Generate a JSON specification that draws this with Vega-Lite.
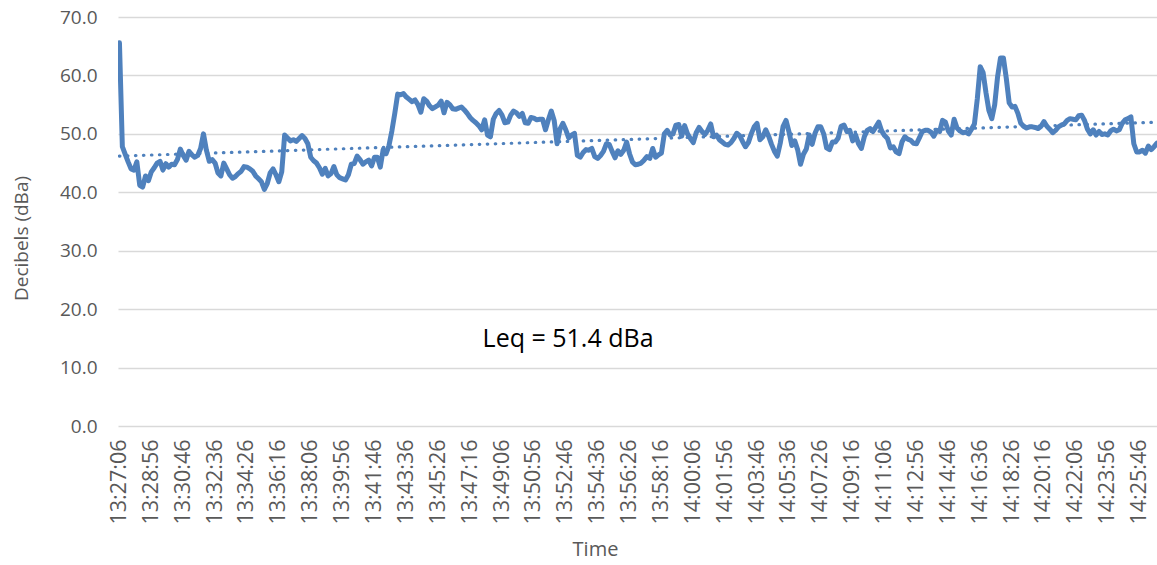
{
"$schema": "https://vega.github.io/schema/vega-lite/v6.json",
"width": 1039,
"height": 409,
"autosize": "none",
"padding": {"left": 118, "top": 17, "right": 0, "bottom": 139},
"background": "white",
"config": {"view": {"stroke": null}, "font": "Open Sans", "axis": {"labelOverlap": false}, "axisX": {"labelOverlap": false}},
"datasets": {"noise": [
{"t":"2012-01-01T13:27:06","db":65.6},{"t":"2012-01-01T13:27:16","db":47.8},{"t":"2012-01-01T13:27:26","db":46.5},{"t":"2012-01-01T13:27:36","db":45.2},{"t":"2012-01-01T13:27:46","db":44.0},{"t":"2012-01-01T13:27:56","db":43.8},
{"t":"2012-01-01T13:28:06","db":45.2},{"t":"2012-01-01T13:28:16","db":41.2},{"t":"2012-01-01T13:28:26","db":40.9},{"t":"2012-01-01T13:28:36","db":42.8},{"t":"2012-01-01T13:28:46","db":42.0},{"t":"2012-01-01T13:28:56","db":43.5},
{"t":"2012-01-01T13:29:06","db":44.2},{"t":"2012-01-01T13:29:16","db":45.0},{"t":"2012-01-01T13:29:26","db":45.3},{"t":"2012-01-01T13:29:36","db":43.8},{"t":"2012-01-01T13:29:46","db":44.9},{"t":"2012-01-01T13:29:56","db":44.3},
{"t":"2012-01-01T13:30:06","db":44.8},{"t":"2012-01-01T13:30:16","db":44.7},{"t":"2012-01-01T13:30:26","db":45.6},{"t":"2012-01-01T13:30:36","db":47.4},{"t":"2012-01-01T13:30:46","db":46.3},{"t":"2012-01-01T13:30:56","db":45.5},
{"t":"2012-01-01T13:31:06","db":47.0},{"t":"2012-01-01T13:31:16","db":46.4},{"t":"2012-01-01T13:31:26","db":46.0},{"t":"2012-01-01T13:31:36","db":46.3},{"t":"2012-01-01T13:31:46","db":47.5},{"t":"2012-01-01T13:31:56","db":50.0},
{"t":"2012-01-01T13:32:06","db":47.2},{"t":"2012-01-01T13:32:16","db":45.3},{"t":"2012-01-01T13:32:26","db":45.6},{"t":"2012-01-01T13:32:36","db":45.0},{"t":"2012-01-01T13:32:46","db":43.3},{"t":"2012-01-01T13:32:56","db":42.8},
{"t":"2012-01-01T13:33:06","db":45.0},{"t":"2012-01-01T13:33:16","db":44.0},{"t":"2012-01-01T13:33:26","db":43.0},{"t":"2012-01-01T13:33:36","db":42.4},{"t":"2012-01-01T13:33:46","db":42.7},{"t":"2012-01-01T13:33:56","db":43.2},
{"t":"2012-01-01T13:34:06","db":43.6},{"t":"2012-01-01T13:34:16","db":44.4},{"t":"2012-01-01T13:34:26","db":44.3},{"t":"2012-01-01T13:34:36","db":44.0},{"t":"2012-01-01T13:34:46","db":43.6},{"t":"2012-01-01T13:34:56","db":42.8},
{"t":"2012-01-01T13:35:06","db":42.3},{"t":"2012-01-01T13:35:16","db":41.8},{"t":"2012-01-01T13:35:26","db":40.5},{"t":"2012-01-01T13:35:36","db":41.5},{"t":"2012-01-01T13:35:46","db":43.3},{"t":"2012-01-01T13:35:56","db":44.0},
{"t":"2012-01-01T13:36:06","db":43.0},{"t":"2012-01-01T13:36:16","db":41.8},{"t":"2012-01-01T13:36:26","db":43.5},{"t":"2012-01-01T13:36:36","db":49.8},{"t":"2012-01-01T13:36:46","db":49.3},{"t":"2012-01-01T13:36:56","db":48.8},
{"t":"2012-01-01T13:37:06","db":49.0},{"t":"2012-01-01T13:37:16","db":48.7},{"t":"2012-01-01T13:37:26","db":49.2},{"t":"2012-01-01T13:37:36","db":49.7},{"t":"2012-01-01T13:37:46","db":49.2},{"t":"2012-01-01T13:37:56","db":48.3},
{"t":"2012-01-01T13:38:06","db":46.0},{"t":"2012-01-01T13:38:16","db":45.4},{"t":"2012-01-01T13:38:26","db":45.0},{"t":"2012-01-01T13:38:36","db":44.2},{"t":"2012-01-01T13:38:46","db":43.1},{"t":"2012-01-01T13:38:56","db":44.1},
{"t":"2012-01-01T13:39:06","db":42.8},{"t":"2012-01-01T13:39:16","db":43.2},{"t":"2012-01-01T13:39:26","db":44.4},{"t":"2012-01-01T13:39:36","db":43.0},{"t":"2012-01-01T13:39:46","db":42.5},{"t":"2012-01-01T13:39:56","db":42.3},
{"t":"2012-01-01T13:40:06","db":42.1},{"t":"2012-01-01T13:40:16","db":43.0},{"t":"2012-01-01T13:40:26","db":44.8},{"t":"2012-01-01T13:40:36","db":44.9},{"t":"2012-01-01T13:40:46","db":46.2},{"t":"2012-01-01T13:40:56","db":45.6},
{"t":"2012-01-01T13:41:06","db":44.8},{"t":"2012-01-01T13:41:16","db":45.2},{"t":"2012-01-01T13:41:26","db":45.5},{"t":"2012-01-01T13:41:36","db":44.5},{"t":"2012-01-01T13:41:46","db":46.0},{"t":"2012-01-01T13:41:56","db":46.0},
{"t":"2012-01-01T13:42:06","db":44.3},{"t":"2012-01-01T13:42:16","db":47.3},{"t":"2012-01-01T13:42:26","db":46.6},{"t":"2012-01-01T13:42:36","db":48.0},{"t":"2012-01-01T13:42:46","db":50.5},{"t":"2012-01-01T13:42:56","db":53.5},
{"t":"2012-01-01T13:43:06","db":56.8},{"t":"2012-01-01T13:43:16","db":56.7},{"t":"2012-01-01T13:43:26","db":56.9},{"t":"2012-01-01T13:43:36","db":56.3},{"t":"2012-01-01T13:43:46","db":55.9},{"t":"2012-01-01T13:43:56","db":55.5},
{"t":"2012-01-01T13:44:06","db":55.8},{"t":"2012-01-01T13:44:16","db":55.0},{"t":"2012-01-01T13:44:26","db":53.7},{"t":"2012-01-01T13:44:36","db":56.0},{"t":"2012-01-01T13:44:46","db":55.6},{"t":"2012-01-01T13:44:56","db":54.8},
{"t":"2012-01-01T13:45:06","db":54.3},{"t":"2012-01-01T13:45:16","db":54.6},{"t":"2012-01-01T13:45:26","db":54.9},{"t":"2012-01-01T13:45:36","db":55.6},{"t":"2012-01-01T13:45:46","db":53.6},{"t":"2012-01-01T13:45:56","db":55.4},
{"t":"2012-01-01T13:46:06","db":55.0},{"t":"2012-01-01T13:46:16","db":54.3},{"t":"2012-01-01T13:46:26","db":54.2},{"t":"2012-01-01T13:46:36","db":54.4},{"t":"2012-01-01T13:46:46","db":54.6},{"t":"2012-01-01T13:46:56","db":54.1},
{"t":"2012-01-01T13:47:06","db":53.5},{"t":"2012-01-01T13:47:16","db":52.8},{"t":"2012-01-01T13:47:26","db":52.3},{"t":"2012-01-01T13:47:36","db":51.9},{"t":"2012-01-01T13:47:46","db":51.4},{"t":"2012-01-01T13:47:56","db":50.7},
{"t":"2012-01-01T13:48:06","db":52.4},{"t":"2012-01-01T13:48:16","db":49.8},{"t":"2012-01-01T13:48:26","db":49.5},{"t":"2012-01-01T13:48:36","db":52.5},{"t":"2012-01-01T13:48:46","db":53.5},{"t":"2012-01-01T13:48:56","db":54.0},
{"t":"2012-01-01T13:49:06","db":53.2},{"t":"2012-01-01T13:49:16","db":51.9},{"t":"2012-01-01T13:49:26","db":52.0},{"t":"2012-01-01T13:49:36","db":53.2},{"t":"2012-01-01T13:49:46","db":53.9},{"t":"2012-01-01T13:49:56","db":53.6},
{"t":"2012-01-01T13:50:06","db":53.0},{"t":"2012-01-01T13:50:16","db":53.5},{"t":"2012-01-01T13:50:26","db":51.9},{"t":"2012-01-01T13:50:36","db":51.8},{"t":"2012-01-01T13:50:46","db":52.8},{"t":"2012-01-01T13:50:56","db":52.7},
{"t":"2012-01-01T13:51:06","db":52.4},{"t":"2012-01-01T13:51:16","db":52.5},{"t":"2012-01-01T13:51:26","db":52.5},{"t":"2012-01-01T13:51:36","db":50.7},{"t":"2012-01-01T13:51:46","db":52.4},{"t":"2012-01-01T13:51:56","db":53.9},
{"t":"2012-01-01T13:52:06","db":52.3},{"t":"2012-01-01T13:52:16","db":48.3},{"t":"2012-01-01T13:52:26","db":50.8},{"t":"2012-01-01T13:52:36","db":51.8},{"t":"2012-01-01T13:52:46","db":50.7},{"t":"2012-01-01T13:52:56","db":49.3},
{"t":"2012-01-01T13:53:06","db":49.8},{"t":"2012-01-01T13:53:16","db":50.1},{"t":"2012-01-01T13:53:26","db":46.3},{"t":"2012-01-01T13:53:36","db":46.0},{"t":"2012-01-01T13:53:46","db":46.8},{"t":"2012-01-01T13:53:56","db":47.3},
{"t":"2012-01-01T13:54:06","db":47.2},{"t":"2012-01-01T13:54:16","db":47.5},{"t":"2012-01-01T13:54:26","db":46.1},{"t":"2012-01-01T13:54:36","db":45.8},{"t":"2012-01-01T13:54:46","db":46.3},{"t":"2012-01-01T13:54:56","db":47.0},
{"t":"2012-01-01T13:55:06","db":48.3},{"t":"2012-01-01T13:55:16","db":48.2},{"t":"2012-01-01T13:55:26","db":47.0},{"t":"2012-01-01T13:55:36","db":45.9},{"t":"2012-01-01T13:55:46","db":47.1},{"t":"2012-01-01T13:55:56","db":46.5},
{"t":"2012-01-01T13:56:06","db":47.2},{"t":"2012-01-01T13:56:16","db":48.6},{"t":"2012-01-01T13:56:26","db":46.6},{"t":"2012-01-01T13:56:36","db":45.2},{"t":"2012-01-01T13:56:46","db":44.7},{"t":"2012-01-01T13:56:56","db":44.8},
{"t":"2012-01-01T13:57:06","db":45.0},{"t":"2012-01-01T13:57:16","db":45.5},{"t":"2012-01-01T13:57:26","db":46.1},{"t":"2012-01-01T13:57:36","db":45.8},{"t":"2012-01-01T13:57:46","db":47.5},{"t":"2012-01-01T13:57:56","db":46.0},
{"t":"2012-01-01T13:58:06","db":46.4},{"t":"2012-01-01T13:58:16","db":46.7},{"t":"2012-01-01T13:58:26","db":50.0},{"t":"2012-01-01T13:58:36","db":50.6},{"t":"2012-01-01T13:58:46","db":49.8},{"t":"2012-01-01T13:58:56","db":50.0},
{"t":"2012-01-01T13:59:06","db":51.5},{"t":"2012-01-01T13:59:16","db":51.6},{"t":"2012-01-01T13:59:26","db":49.6},{"t":"2012-01-01T13:59:36","db":51.4},{"t":"2012-01-01T13:59:46","db":50.0},{"t":"2012-01-01T13:59:56","db":49.2},
{"t":"2012-01-01T14:00:06","db":48.5},{"t":"2012-01-01T14:00:16","db":50.2},{"t":"2012-01-01T14:00:26","db":51.1},{"t":"2012-01-01T14:00:36","db":50.4},{"t":"2012-01-01T14:00:46","db":49.9},{"t":"2012-01-01T14:00:56","db":50.6},
{"t":"2012-01-01T14:01:06","db":51.7},{"t":"2012-01-01T14:01:16","db":49.5},{"t":"2012-01-01T14:01:26","db":49.8},{"t":"2012-01-01T14:01:36","db":49.0},{"t":"2012-01-01T14:01:46","db":48.6},{"t":"2012-01-01T14:01:56","db":48.2},
{"t":"2012-01-01T14:02:06","db":48.1},{"t":"2012-01-01T14:02:16","db":48.5},{"t":"2012-01-01T14:02:26","db":49.2},{"t":"2012-01-01T14:02:36","db":50.1},{"t":"2012-01-01T14:02:46","db":49.7},{"t":"2012-01-01T14:02:56","db":48.7},
{"t":"2012-01-01T14:03:06","db":47.8},{"t":"2012-01-01T14:03:16","db":48.5},{"t":"2012-01-01T14:03:26","db":50.0},{"t":"2012-01-01T14:03:36","db":51.2},{"t":"2012-01-01T14:03:46","db":51.8},{"t":"2012-01-01T14:03:56","db":49.0},
{"t":"2012-01-01T14:04:06","db":49.5},{"t":"2012-01-01T14:04:16","db":50.7},{"t":"2012-01-01T14:04:26","db":49.6},{"t":"2012-01-01T14:04:36","db":48.2},{"t":"2012-01-01T14:04:46","db":47.0},{"t":"2012-01-01T14:04:56","db":46.2},
{"t":"2012-01-01T14:05:06","db":48.4},{"t":"2012-01-01T14:05:16","db":51.3},{"t":"2012-01-01T14:05:26","db":52.3},{"t":"2012-01-01T14:05:36","db":50.4},{"t":"2012-01-01T14:05:46","db":48.0},{"t":"2012-01-01T14:05:56","db":48.8},
{"t":"2012-01-01T14:06:06","db":47.3},{"t":"2012-01-01T14:06:16","db":44.8},{"t":"2012-01-01T14:06:26","db":46.5},{"t":"2012-01-01T14:06:36","db":47.4},{"t":"2012-01-01T14:06:46","db":49.8},{"t":"2012-01-01T14:06:56","db":48.2},
{"t":"2012-01-01T14:07:06","db":50.1},{"t":"2012-01-01T14:07:16","db":51.2},{"t":"2012-01-01T14:07:26","db":51.2},{"t":"2012-01-01T14:07:36","db":50.0},{"t":"2012-01-01T14:07:46","db":47.6},{"t":"2012-01-01T14:07:56","db":47.3},
{"t":"2012-01-01T14:08:06","db":48.6},{"t":"2012-01-01T14:08:16","db":48.6},{"t":"2012-01-01T14:08:26","db":49.3},{"t":"2012-01-01T14:08:36","db":51.3},{"t":"2012-01-01T14:08:46","db":51.5},{"t":"2012-01-01T14:08:56","db":50.4},
{"t":"2012-01-01T14:09:06","db":50.6},{"t":"2012-01-01T14:09:16","db":48.8},{"t":"2012-01-01T14:09:26","db":49.8},{"t":"2012-01-01T14:09:36","db":48.3},{"t":"2012-01-01T14:09:46","db":47.5},{"t":"2012-01-01T14:09:56","db":49.5},
{"t":"2012-01-01T14:10:06","db":50.6},{"t":"2012-01-01T14:10:16","db":50.9},{"t":"2012-01-01T14:10:26","db":50.4},{"t":"2012-01-01T14:10:36","db":51.2},{"t":"2012-01-01T14:10:46","db":52.0},{"t":"2012-01-01T14:10:56","db":50.5},
{"t":"2012-01-01T14:11:06","db":49.7},{"t":"2012-01-01T14:11:16","db":49.2},{"t":"2012-01-01T14:11:26","db":47.6},{"t":"2012-01-01T14:11:36","db":47.8},{"t":"2012-01-01T14:11:46","db":46.9},{"t":"2012-01-01T14:11:56","db":46.6},
{"t":"2012-01-01T14:12:06","db":48.6},{"t":"2012-01-01T14:12:16","db":49.5},{"t":"2012-01-01T14:12:26","db":49.1},{"t":"2012-01-01T14:12:36","db":48.9},{"t":"2012-01-01T14:12:46","db":48.4},{"t":"2012-01-01T14:12:56","db":48.3},
{"t":"2012-01-01T14:13:06","db":49.3},{"t":"2012-01-01T14:13:16","db":50.4},{"t":"2012-01-01T14:13:26","db":50.6},{"t":"2012-01-01T14:13:36","db":50.6},{"t":"2012-01-01T14:13:46","db":50.3},{"t":"2012-01-01T14:13:56","db":49.6},
{"t":"2012-01-01T14:14:06","db":50.6},{"t":"2012-01-01T14:14:16","db":50.4},{"t":"2012-01-01T14:14:26","db":52.3},{"t":"2012-01-01T14:14:36","db":52.0},{"t":"2012-01-01T14:14:46","db":50.5},{"t":"2012-01-01T14:14:56","db":49.8},
{"t":"2012-01-01T14:15:06","db":52.5},{"t":"2012-01-01T14:15:16","db":51.0},{"t":"2012-01-01T14:15:26","db":50.5},{"t":"2012-01-01T14:15:36","db":50.2},{"t":"2012-01-01T14:15:46","db":50.3},{"t":"2012-01-01T14:15:56","db":50.0},
{"t":"2012-01-01T14:16:06","db":50.8},{"t":"2012-01-01T14:16:16","db":51.7},{"t":"2012-01-01T14:16:26","db":56.0},{"t":"2012-01-01T14:16:36","db":61.5},{"t":"2012-01-01T14:16:46","db":60.5},{"t":"2012-01-01T14:16:56","db":57.0},
{"t":"2012-01-01T14:17:06","db":54.0},{"t":"2012-01-01T14:17:16","db":52.6},{"t":"2012-01-01T14:17:26","db":55.0},{"t":"2012-01-01T14:17:36","db":59.8},{"t":"2012-01-01T14:17:46","db":63.0},{"t":"2012-01-01T14:17:56","db":63.0},
{"t":"2012-01-01T14:18:06","db":59.5},{"t":"2012-01-01T14:18:16","db":55.3},{"t":"2012-01-01T14:18:26","db":54.6},{"t":"2012-01-01T14:18:36","db":54.7},{"t":"2012-01-01T14:18:46","db":53.5},{"t":"2012-01-01T14:18:56","db":51.8},
{"t":"2012-01-01T14:19:06","db":51.3},{"t":"2012-01-01T14:19:16","db":51.0},{"t":"2012-01-01T14:19:26","db":51.2},{"t":"2012-01-01T14:19:36","db":51.2},{"t":"2012-01-01T14:19:46","db":51.1},{"t":"2012-01-01T14:19:56","db":50.9},
{"t":"2012-01-01T14:20:06","db":51.3},{"t":"2012-01-01T14:20:16","db":52.1},{"t":"2012-01-01T14:20:26","db":51.3},{"t":"2012-01-01T14:20:36","db":50.8},{"t":"2012-01-01T14:20:46","db":50.2},{"t":"2012-01-01T14:20:56","db":50.6},
{"t":"2012-01-01T14:21:06","db":51.2},{"t":"2012-01-01T14:21:16","db":51.5},{"t":"2012-01-01T14:21:26","db":51.7},{"t":"2012-01-01T14:21:36","db":52.3},{"t":"2012-01-01T14:21:46","db":52.6},{"t":"2012-01-01T14:21:56","db":52.5},
{"t":"2012-01-01T14:22:06","db":52.4},{"t":"2012-01-01T14:22:16","db":53.1},{"t":"2012-01-01T14:22:26","db":53.2},{"t":"2012-01-01T14:22:36","db":52.3},{"t":"2012-01-01T14:22:46","db":50.8},{"t":"2012-01-01T14:22:56","db":50.0},
{"t":"2012-01-01T14:23:06","db":50.7},{"t":"2012-01-01T14:23:16","db":49.8},{"t":"2012-01-01T14:23:26","db":50.4},{"t":"2012-01-01T14:23:36","db":49.9},{"t":"2012-01-01T14:23:46","db":50.0},{"t":"2012-01-01T14:23:56","db":49.8},
{"t":"2012-01-01T14:24:06","db":50.5},{"t":"2012-01-01T14:24:16","db":50.8},{"t":"2012-01-01T14:24:26","db":50.5},{"t":"2012-01-01T14:24:36","db":50.7},{"t":"2012-01-01T14:24:46","db":51.8},{"t":"2012-01-01T14:24:56","db":52.4},
{"t":"2012-01-01T14:25:06","db":52.6},{"t":"2012-01-01T14:25:16","db":52.9},{"t":"2012-01-01T14:25:26","db":48.3},{"t":"2012-01-01T14:25:36","db":46.9},{"t":"2012-01-01T14:25:46","db":46.9},{"t":"2012-01-01T14:25:56","db":47.2},
{"t":"2012-01-01T14:26:06","db":46.7},{"t":"2012-01-01T14:26:16","db":47.9},{"t":"2012-01-01T14:26:26","db":47.3},{"t":"2012-01-01T14:26:36","db":47.8},{"t":"2012-01-01T14:26:46","db":48.4}
],
"trend": [{"t":"2012-01-01T13:27:06","db":46.2},{"t":"2012-01-01T14:26:46","db":52.0}],
"note": [{"t":"2012-01-01T13:52:54","db":14.9,"label":"Leq = 51.4 dBa"}]
},
"layer": [
{
"data": {"name": "noise"},
"mark": {"type": "line", "color": "#4F81BD", "strokeWidth": 5, "strokeJoin": "round", "strokeCap": "round", "clip": true},
"encoding": {
"x": {"field": "t", "type": "temporal",
"scale": {"domain": [{"year":2012,"month":1,"date":1,"hours":13,"minutes":27,"seconds":1},{"year":2012,"month":1,"date":1,"hours":14,"minutes":26,"seconds":46}]},
"axis": {"title": "Time", "format": "%H:%M:%S", "labelAngle": -90, "labelFlush": false, "labelOverlap": false, "labelBound": false, "tickCount": 60,
"values": [
{"year":2012,"month":1,"date":1,"hours":13,"minutes":27,"seconds":6},{"year":2012,"month":1,"date":1,"hours":13,"minutes":28,"seconds":56},{"year":2012,"month":1,"date":1,"hours":13,"minutes":30,"seconds":46},
{"year":2012,"month":1,"date":1,"hours":13,"minutes":32,"seconds":36},{"year":2012,"month":1,"date":1,"hours":13,"minutes":34,"seconds":26},{"year":2012,"month":1,"date":1,"hours":13,"minutes":36,"seconds":16},
{"year":2012,"month":1,"date":1,"hours":13,"minutes":38,"seconds":6},{"year":2012,"month":1,"date":1,"hours":13,"minutes":39,"seconds":56},{"year":2012,"month":1,"date":1,"hours":13,"minutes":41,"seconds":46},
{"year":2012,"month":1,"date":1,"hours":13,"minutes":43,"seconds":36},{"year":2012,"month":1,"date":1,"hours":13,"minutes":45,"seconds":26},{"year":2012,"month":1,"date":1,"hours":13,"minutes":47,"seconds":16},
{"year":2012,"month":1,"date":1,"hours":13,"minutes":49,"seconds":6},{"year":2012,"month":1,"date":1,"hours":13,"minutes":50,"seconds":56},{"year":2012,"month":1,"date":1,"hours":13,"minutes":52,"seconds":46},
{"year":2012,"month":1,"date":1,"hours":13,"minutes":54,"seconds":36},{"year":2012,"month":1,"date":1,"hours":13,"minutes":56,"seconds":26},{"year":2012,"month":1,"date":1,"hours":13,"minutes":58,"seconds":16},
{"year":2012,"month":1,"date":1,"hours":14,"minutes":0,"seconds":6},{"year":2012,"month":1,"date":1,"hours":14,"minutes":1,"seconds":56},{"year":2012,"month":1,"date":1,"hours":14,"minutes":3,"seconds":46},
{"year":2012,"month":1,"date":1,"hours":14,"minutes":5,"seconds":36},{"year":2012,"month":1,"date":1,"hours":14,"minutes":7,"seconds":26},{"year":2012,"month":1,"date":1,"hours":14,"minutes":9,"seconds":16},
{"year":2012,"month":1,"date":1,"hours":14,"minutes":11,"seconds":6},{"year":2012,"month":1,"date":1,"hours":14,"minutes":12,"seconds":56},{"year":2012,"month":1,"date":1,"hours":14,"minutes":14,"seconds":46},
{"year":2012,"month":1,"date":1,"hours":14,"minutes":16,"seconds":36},{"year":2012,"month":1,"date":1,"hours":14,"minutes":18,"seconds":26},{"year":2012,"month":1,"date":1,"hours":14,"minutes":20,"seconds":16},
{"year":2012,"month":1,"date":1,"hours":14,"minutes":22,"seconds":6},{"year":2012,"month":1,"date":1,"hours":14,"minutes":23,"seconds":56},{"year":2012,"month":1,"date":1,"hours":14,"minutes":25,"seconds":46}
],
"labelFontSize": 21.5, "labelColor": "#595959", "labelPadding": 13, "ticks": false, "domain": false, "grid": false,
"titleFontSize": 20, "titleColor": "#595959", "titleFontWeight": "normal", "titleX": 477, "titleY": 113, "titleAnchor": "middle", "titleBaseline": "top"}},
"y": {"field": "db", "type": "quantitative",
"scale": {"domain": [0, 70]},
"axis": {"title": "Decibels (dBa)", "format": ".1f", "values": [0,10,20,30,40,50,60,70], "tickCount": 20,
"labelFontSize": 19, "labelColor": "#595959", "labelPadding": 21, "ticks": false, "domain": false,
"grid": true, "gridColor": "#D9D9D9", "gridWidth": 1.3,
"titleFontSize": 19, "titleColor": "#595959", "titleFontWeight": "normal", "titleX": -97, "titleY": 221, "titleAngle": -90, "titleAlign": "center", "titleBaseline": "middle"}}
}
},
{
"data": {"name": "trend"},
"mark": {"type": "line", "color": "#4F81BD", "strokeWidth": 3.2, "strokeDash": [0.5, 7.5], "strokeCap": "round", "clip": true},
"encoding": {
"x": {"field": "t", "type": "temporal"},
"y": {"field": "db", "type": "quantitative"}
}
},
{
"data": {"name": "note"},
"mark": {"type": "text", "fontSize": 25, "color": "#000000", "align": "center", "baseline": "middle"},
"encoding": {
"x": {"field": "t", "type": "temporal"},
"y": {"field": "db", "type": "quantitative"},
"text": {"field": "label"}
}
}
]
}
